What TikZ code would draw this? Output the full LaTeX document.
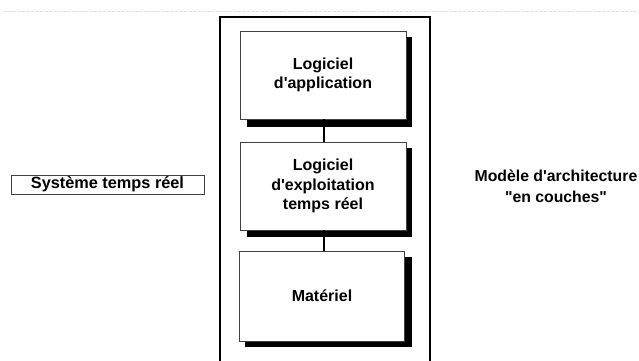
\documentclass[tikz,border=0pt]{standalone}
\usepackage{fontspec}
\setmainfont{Liberation Sans}[Ligatures=TeXOff]
\begin{document}
\begin{tikzpicture}[x=1pt,y=-1pt,
  layer/.style={draw=black!75, line width=0.9pt, fill=white, minimum width=166pt,
    align=center, font=\fontsize{16}{19.5}\selectfont\bfseries, inner sep=0pt},
  shade/.style={fill=black},
  link/.style={draw=black, line width=1.3pt},
  caption/.style={font=\fontsize{15.8}{21}\selectfont\bfseries, align=center}]
\useasboundingbox (0,0) rectangle (639,360);
% faint rule along the top
\draw[draw={rgb,255:red,225;green,225;blue,200}, line width=0.6pt, dash pattern=on 3pt off 1.5pt] (4,11) -- (636,11);
% enclosing frame, open past the lower edge
\begin{scope}
\clip (0,0) rectangle (639,360);
\draw[line width=1.8pt] (220,370) -- (220,17) -- (430,17) -- (430,370);
\end{scope}
% layer boxes with drop shadows
\fill[shade] (247,37) rectangle (412,127);
\node[layer, minimum height=88pt] (app) at (323,75) {Logiciel\\d'application};
\fill[shade] (247,148) rectangle (412,237);
\node[layer, minimum height=88pt] (os) at (323,186) {Logiciel\\d'exploitation\\temps r\'eel};
\fill[shade] (245,257) rectangle (412,347);
\node[layer, minimum height=90pt, minimum width=165pt] (hw) at (322,296) {Mat\'eriel};
\draw[link] (app.south -| 324,0) -- (os.north -| 324,0);
\draw[link] (os.south -| 324,0) -- (hw.north -| 324,0);
% side labels
\node[draw=black!75, line width=0.9pt, minimum width=193pt, minimum height=19pt, inner sep=0pt,
  font=\fontsize{16.3}{18}\selectfont\bfseries] (sys) at (107.5,184.5) {Syst\`eme temps r\'eel};
\node[caption] (model) at (556,186.5) {Mod\`ele d'architecture\\"en couches"};
\end{tikzpicture}
\end{document}
